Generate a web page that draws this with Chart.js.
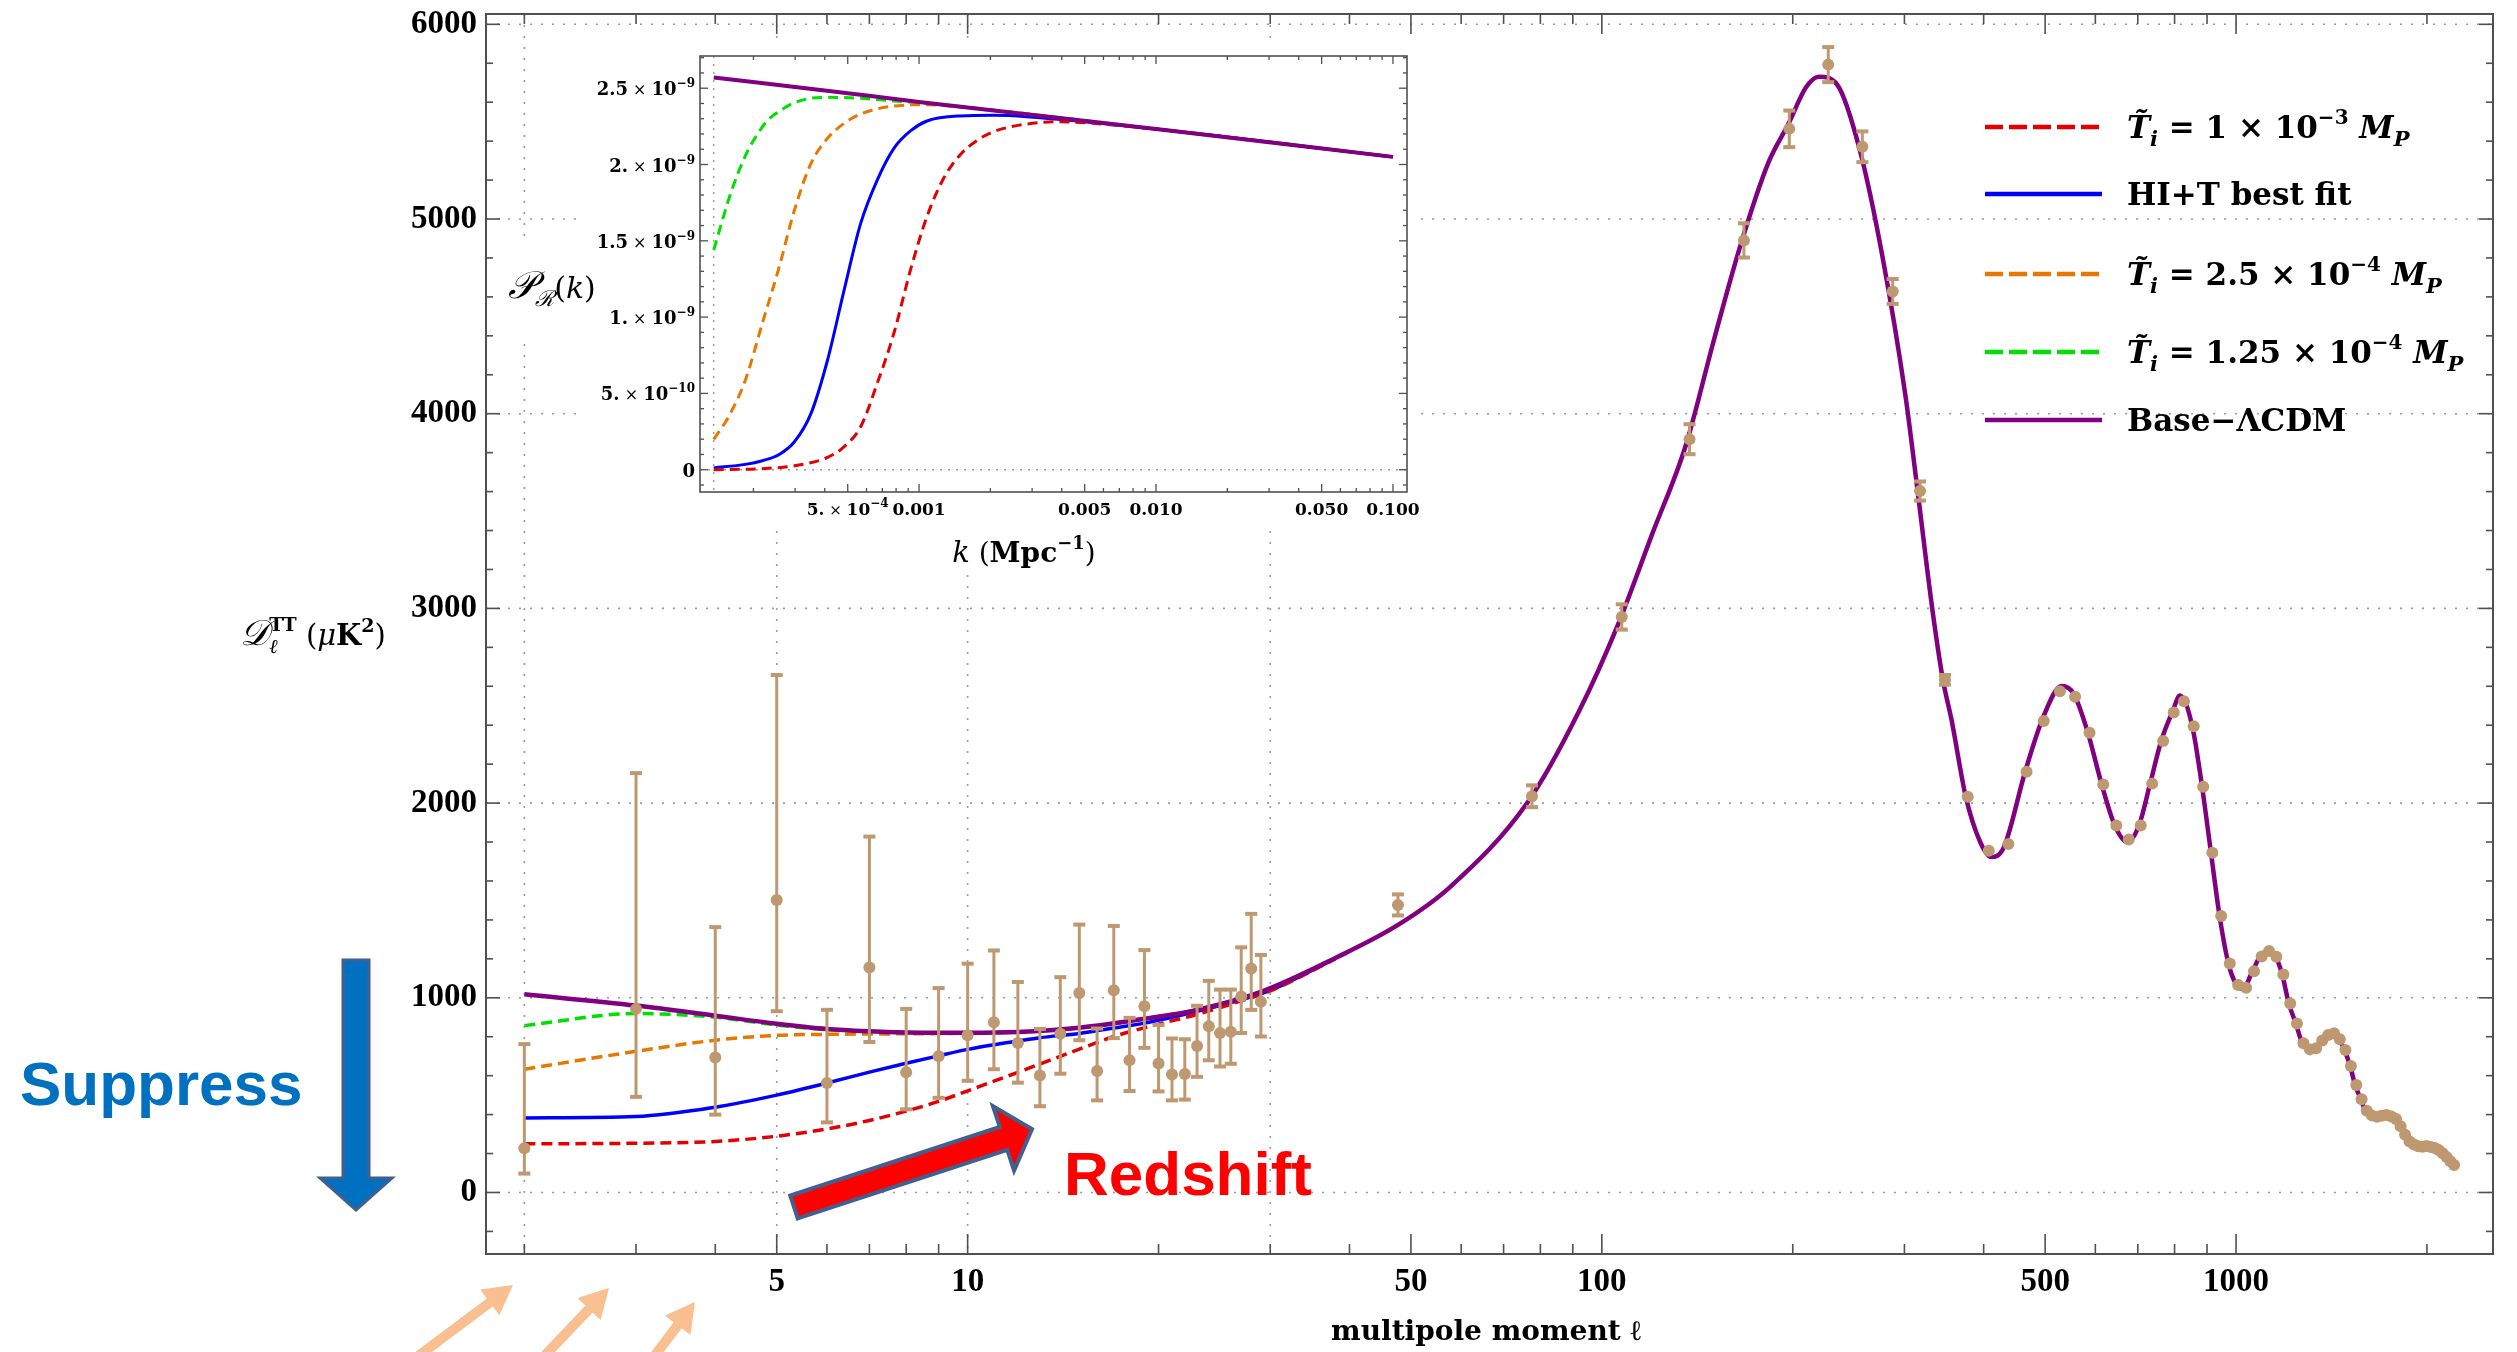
<!DOCTYPE html>
<html>
<head>
<meta charset="utf-8">
<title>TT spectrum with suppressed low multipoles</title>
<script src="https://cdn.jsdelivr.net/npm/chart.js@4.4.0/dist/chart.umd.min.js"></script>
<style>
  html, body { margin: 0; padding: 0; background: #fff; }
  #wrap { position: relative; width: 2517px; height: 1352px; }
  #main { position: absolute; left: 0; top: 0; }
  #inset { position: absolute; left: 500px; top: 45px; }
</style>
</head>
<body>
<div id="wrap">
  <canvas id="main" width="2517" height="1352"></canvas>
  <canvas id="inset" width="920" height="530"></canvas>
</div>
<script>
/**
 * Data
 */
// low-l Planck points (l = 2..29), value and error bar ends
const lowEll = [2, 3, 4, 5, 6, 7, 8, 9, 10, 11, 12, 13, 14, 15, 16, 17, 18, 19, 20, 21, 22, 23, 24, 25, 26, 27, 28, 29];
const lowD = [227, 943, 693, 1502, 562, 1156, 617, 700, 807, 874, 768, 601, 815, 1025, 624, 1039, 679, 956, 663, 606, 608, 752, 854, 819, 826, 1007, 1151, 979];
const lowUp = [762, 2154, 1363, 2658, 938, 1828, 943, 1050, 1175, 1243, 1081, 840, 1106, 1376, 842, 1369, 897, 1245, 860, 791, 787, 959, 1087, 1042, 1042, 1259, 1431, 1220];
const lowDn = [97, 491, 400, 931, 360, 773, 427, 486, 574, 633, 564, 443, 610, 782, 473, 793, 521, 743, 519, 473, 477, 594, 679, 647, 661, 819, 938, 801];

// binned high-l points
const binEll = [47.7, 77.6, 107.5, 137.5, 167.5, 197.5, 227.5, 257.5, 287.5, 317.5, 347.5, 377.5, 407.5, 437.5, 467.5, 497.5, 527.5, 557.5, 587.5, 617.5,
  647.5, 677.5, 707.5, 737.5, 767.5, 797.5, 827.5, 857.5, 887.5, 917.5, 947.5, 977.5, 1007.5, 1037.5, 1067.5, 1097.5, 1127.5, 1157.5, 1187.5, 1217.5,
  1247.5, 1277.5, 1307.5, 1337.5, 1367.5, 1397.5, 1427.5, 1457.5, 1487.5, 1517.5, 1547.5, 1577.5, 1607.5, 1637.5, 1667.5, 1697.5, 1727.5, 1757.5, 1787.5, 1817.5,
  1847.5, 1877.5, 1907.5, 1937.5, 1967.5, 1997.5, 2027.5, 2057.5, 2087.5, 2117.5, 2147.5, 2177.5, 2207.5];
const binD = [1477, 2035, 2956, 3869, 4890, 5463, 5793, 5371, 4628, 3603, 2633, 2033, 1755, 1790, 2161, 2422, 2574, 2546, 2361, 2096,
  1885, 1813, 1885, 2100, 2319, 2465, 2523, 2395, 2084, 1745, 1420, 1176, 1066, 1051, 1136, 1212, 1240, 1211, 1120, 971,
  868, 766, 735, 741, 780, 809, 818, 787, 732, 650, 552, 479, 420, 396, 389, 394, 398, 390, 378, 340,
  296, 262, 246, 238, 235, 239, 234, 228, 218, 201, 182, 160, 141];
const binErr = [54, 56, 65, 77, 88, 94, 90, 79, 64, 49, 25, 0, 0, 0, 0, 0, 0, 0, 0, 0,
  0, 0, 0, 0, 0, 0, 0, 0, 0, 0, 0, 0, 0, 0, 0, 0, 0, 0, 0, 0,
  0, 0, 0, 0, 0, 0, 0, 0, 0, 0, 0, 0, 0, 0, 0, 0, 0, 0, 0, 0,
  0, 0, 0, 0, 0, 0, 0, 0, 0, 0, 0, 0, 0];

// Base-LCDM curve
const lcdmEll = [2, 3, 4, 5, 6, 7, 8, 9, 10, 12, 15, 19, 23, 29, 38, 47.7, 57.5, 76.5, 92, 106,
  120, 135.5, 150, 165, 183, 197, 210, 220, 235, 255, 277, 301, 315, 332, 345, 356, 375, 395, 411, 430,
  465, 495, 531, 555, 584, 614, 644, 674, 703, 732, 762, 794, 816, 853, 884, 913, 942, 973, 1000, 1025,
  1062, 1091, 1124, 1153, 1182, 1211, 1242, 1272, 1303, 1336, 1363, 1424, 1455, 1482, 1513, 1541, 1573, 1598, 1663, 1729,
  1797, 1850, 1916, 1999, 2085, 2162, 2202];
const lcdmD = [1018, 960, 908, 867, 840, 828, 822, 820, 820, 824, 846, 892, 938, 1030, 1204, 1374, 1566, 2007, 2470, 2915,
  3380, 3833, 4371, 4853, 5288, 5490, 5678, 5731, 5690, 5357, 4807, 4096, 3592, 2995, 2633, 2427, 2030, 1800, 1723, 1770,
  2161, 2430, 2601, 2560, 2361, 2096, 1885, 1800, 1885, 2100, 2319, 2470, 2552, 2395, 2084, 1745, 1420, 1174, 1070, 1045,
  1138, 1211, 1240, 1215, 1121, 972, 869, 766, 735, 741, 780, 818, 787, 732, 650, 552, 479, 424, 389, 398,
  376, 295, 244, 239, 218, 171, 141];

// suppressed low-l curves
const modEll = [2, 3, 4, 5, 6, 7, 8, 9, 10, 11, 12, 13, 15, 17, 19, 23, 27, 30, 38];
const redD = [250, 253, 262, 289, 326, 370, 418, 468, 522, 572, 617, 660, 736, 801, 846, 915, 984, 1035, 1200];
const blueD = [383, 390, 438, 500, 562, 618, 664, 702, 735, 759, 778, 795, 817, 845, 870, 931, 990, 1038, 1203];
const orangeD = [633, 725, 782, 807, 812, 814, 815, 816, 818, 821, 824, 830, 846, 868, 892, 938, 995, 1040, 1204];
const greenD = [857, 919, 900, 860, 836, 826, 821, 819, 819, 821, 824, 830, 846, 868, 892, 938, 995, 1040, 1204];

// main axes ticks
const xLabelTicks = [5, 10, 50, 100, 500, 1000];
const xLabelText = ['5', '10', '50', '100', '500', '1000'];
const xMinorTicks = [2, 3, 4, 6, 7, 8, 9, 20, 30, 40, 60, 70, 80, 90, 200, 300, 400, 600, 700, 800, 900, 2000];
const xGridLines = [2, 5, 10, 30];
const yLabelTicks = [0, 1000, 2000, 3000, 4000, 5000, 6000];

// inset: primordial spectrum P_R(k), values in units of 1e-9
const kLcdm = [1.36e-4, 4e-4, 1e-3, 1e-2, 0.1];
const pLcdm = [2.570, 2.485, 2.410, 2.232, 2.050];
const kRed = [1.36e-4, 2.18e-4, 2.98e-4, 4.11e-4, 4.83e-4, 5.67e-4, 6.66e-4, 7.83e-4, 9.2e-4, 1.08e-3, 1.27e-3, 1.49e-3, 1.75e-3, 2.06e-3, 2.85e-3, 3.94e-3, 5.43e-3, 1e-2, 0.1];
const pRed = [0.000, 0.007, 0.026, 0.081, 0.151, 0.282, 0.566, 0.894, 1.309, 1.659, 1.910, 2.063, 2.156, 2.215, 2.265, 2.280, 2.270, 2.232, 2.050];
const kBlue = [1.36e-4, 1.85e-4, 2.18e-4, 2.57e-4, 2.98e-4, 3.5e-4, 4.11e-4, 4.83e-4, 5.67e-4, 6.66e-4, 7.83e-4, 9.2e-4, 1.08e-3, 1.49e-3, 2.06e-3, 2.85e-3, 1e-2, 0.1];
const pBlue = [0.012, 0.035, 0.059, 0.100, 0.183, 0.369, 0.719, 1.178, 1.614, 1.898, 2.106, 2.220, 2.285, 2.318, 2.322, 2.313, 2.232, 2.050];
const kOrange = [1.36e-4, 1.57e-4, 1.85e-4, 2.18e-4, 2.57e-4, 2.98e-4, 3.5e-4, 4.11e-4, 4.83e-4, 5.67e-4, 7.83e-4, 1.08e-3, 1.5e-3, 1e-2, 0.1];
const pOrange = [0.199, 0.347, 0.588, 0.959, 1.330, 1.702, 2.008, 2.172, 2.270, 2.331, 2.383, 2.392, 2.376, 2.232, 2.050];
const kGreen = [1.36e-4, 1.57e-4, 1.72e-4, 1.90e-4, 2.09e-4, 2.30e-4, 2.62e-4, 2.98e-4, 3.5e-4, 4.11e-4, 5.67e-4, 7.83e-4, 1.1e-3, 1e-2, 0.1];
const pGreen = [1.440, 1.767, 1.942, 2.095, 2.204, 2.291, 2.357, 2.405, 2.434, 2.440, 2.434, 2.416, 2.400, 2.232, 2.050];

// inset tick labels: [mantissa, exponent] pairs, exponent '' means plain number
const insetXLabelTicks = [5e-4, 1e-3, 5e-3, 1e-2, 5e-2, 0.1];
const insetXLabels = [['5.', '4'], ['0.001', ''], ['0.005', ''], ['0.010', ''], ['0.050', ''], ['0.100', '']];
const insetXMinor = [2e-4, 3e-4, 4e-4, 6e-4, 7e-4, 8e-4, 9e-4, 2e-3, 3e-3, 4e-3, 6e-3, 7e-3, 8e-3, 9e-3, 2e-2, 3e-2, 4e-2, 6e-2, 7e-2, 8e-2, 9e-2];
const insetYLabelTicks = [0, 0.5, 1, 1.5, 2, 2.5];
const insetYLabels = [['0', ''], ['5.', '10'], ['1.', '9'], ['1.5', '9'], ['2.', '9'], ['2.5', '9']];
const insetYMinor = [-0.1, 0.1, 0.2, 0.3, 0.4, 0.6, 0.7, 0.8, 0.9, 1.1, 1.2, 1.3, 1.4, 1.6, 1.7, 1.8, 1.9, 2.1, 2.2, 2.3, 2.4, 2.6, 2.7];
const kStart = 1.36e-4;

/**
 * Styles
 */
const COL = {
  red: '#e30000',
  blue: '#0000ff',
  orange: '#e87700',
  green: '#00e000',
  purple: '#800080',
  tan: 'rgb(190,152,112)',
  frame: '#505050',
  grid: '#9b9b9b'
};
const SERIF = 'DejaVu Serif';
const tickFont = { family: 'Liberation Serif', weight: 'bold', size: 33, lineHeight: 1 };

const toXY = function (xs, ys) {
  return xs.map((x, i) => ({ x: x, y: ys[i] }));
};

const curve = function (label, xs, ys, color, dashed, width, order) {
  return {
    label: label,
    data: toXY(xs, ys),
    showLine: true,
    borderColor: color,
    backgroundColor: color,
    borderWidth: width,
    borderDash: dashed ? [11, 6] : [],
    pointRadius: 0,
    pointHoverRadius: 0,
    cubicInterpolationMode: 'monotone',
    order: order
  };
};

const line = function (ctx, x0, y0, x1, y1) {
  ctx.beginPath();
  ctx.moveTo(x0, y0);
  ctx.lineTo(x1, y1);
  ctx.stroke();
};

// frame with inward ticks on all four sides plus dotted grid
const drawFrame = function (chart, o) {
  const { ctx, chartArea: a, scales: { x, y } } = chart;
  ctx.save();
  ctx.strokeStyle = COL.grid;
  ctx.lineWidth = o.gridWidth;
  ctx.setLineDash(o.gridDash);
  o.xGrid.forEach(v => {
    const p = x.getPixelForValue(v);
    line(ctx, p, a.top, p, a.bottom);
  });
  o.yGrid.forEach(v => {
    const p = y.getPixelForValue(v);
    line(ctx, a.left, p, a.right, p);
  });
  ctx.setLineDash([]);
  ctx.strokeStyle = COL.frame;
  ctx.lineWidth = o.tickWidth;
  const xt = function (vals, len) {
    vals.forEach(v => {
      const p = x.getPixelForValue(v);
      if (p < a.left || p > a.right) return;
      line(ctx, p, a.bottom, p, a.bottom - len);
      line(ctx, p, a.top, p, a.top + len);
    });
  };
  const yt = function (vals, len) {
    vals.forEach(v => {
      const p = y.getPixelForValue(v);
      if (p < a.top || p > a.bottom) return;
      line(ctx, a.left, p, a.left + len, p);
      line(ctx, a.right, p, a.right - len, p);
    });
  };
  xt(o.xMajor, o.xMajorLen);
  xt(o.xMinor, o.xMinorLen);
  yt(o.yMajor, o.yMajorLen);
  yt(o.yMinor, o.yMinorLen);
  ctx.lineWidth = o.frameWidth;
  ctx.strokeRect(a.left, a.top, a.right - a.left, a.bottom - a.top);
  ctx.restore();
};

// text made of pieces (sub/superscripts)
const richWidth = function (ctx, parts) {
  let w = 0;
  parts.forEach(p => {
    ctx.font = p.f;
    if (!p.stack) w += ctx.measureText(p.t).width;
  });
  return w;
};
const drawRich = function (ctx, x, y, parts, color) {
  let cx = x;
  ctx.fillStyle = color || '#000';
  ctx.textBaseline = 'alphabetic';
  ctx.textAlign = 'left';
  parts.forEach(p => {
    ctx.font = p.f;
    ctx.fillText(p.t, cx, y + (p.dy || 0));
    if (!p.stack) cx += ctx.measureText(p.t).width;
  });
};

// Mathematica style number label "m×10^e"
const sciParts = function (lab, size) {
  if (!lab[1]) return [{ t: lab[0], f: `bold ${size}px ${SERIF}` }];
  return [
    { t: lab[0], f: `bold ${size}px ${SERIF}` },
    { t: ' × ', f: `${size - 2}px ${SERIF}` },
    { t: '10', f: `bold ${size}px ${SERIF}` },
    { t: '−' + lab[1], f: `bold ${Math.round(size * 0.68)}px ${SERIF}`, dy: -Math.round(size * 0.45) }
  ];
};

const blockArrow = function (ctx, x0, y0, x1, y1, w, hl, hw) {
  const L = Math.hypot(x1 - x0, y1 - y0);
  const ux = (x1 - x0) / L, uy = (y1 - y0) / L;
  const nx = -uy, ny = ux;
  const bx = x1 - ux * hl, by = y1 - uy * hl;
  ctx.beginPath();
  ctx.moveTo(x0 + nx * w / 2, y0 + ny * w / 2);
  ctx.lineTo(bx + nx * w / 2, by + ny * w / 2);
  ctx.lineTo(bx + nx * hw, by + ny * hw);
  ctx.lineTo(x1, y1);
  ctx.lineTo(bx - nx * hw, by - ny * hw);
  ctx.lineTo(bx - nx * w / 2, by - ny * w / 2);
  ctx.lineTo(x0 - nx * w / 2, y0 - ny * w / 2);
  ctx.closePath();
};

/**
 * Main chart
 */
const dataEll = lowEll.concat(binEll);
const dataD = lowD.concat(binD);
const dataUp = lowUp.concat(binD.map((d, i) => d + binErr[i]));
const dataDn = lowDn.concat(binD.map((d, i) => d - binErr[i]));

const yMinorTicks = [];
for (let v = -200; v <= 6000; v += 200) {
  if (v % 1000 !== 0) yMinorTicks.push(v);
}

const errorBars = {
  id: 'errorBars',
  beforeDatasetDraw(chart, args) {
    if (chart.data.datasets[args.index].label !== 'Planck') return;
    const { ctx, scales: { x, y } } = chart;
    ctx.save();
    ctx.strokeStyle = COL.tan;
    dataEll.forEach((l, i) => {
      if (dataUp[i] - dataDn[i] <= 0) return;
      const px = x.getPixelForValue(l);
      const pt = y.getPixelForValue(dataUp[i]);
      const pb = y.getPixelForValue(dataDn[i]);
      ctx.lineWidth = 3;
      line(ctx, px, pt, px, pb);
      ctx.lineWidth = 4;
      line(ctx, px - 6, pt, px + 6, pt);
      line(ctx, px - 6, pb, px + 6, pb);
    });
    ctx.restore();
  }
};

const tParts = function (mant, exp) {
  return [
    { t: 'T\u0303', f: `bold italic 31px ${SERIF}` },
    { t: 'i', f: `bold italic 21px ${SERIF}`, dy: 8 },
    { t: ' = ' + mant + ' × 10', f: `bold 31px ${SERIF}` },
    { t: '−' + exp, f: `bold 20px ${SERIF}`, dy: -14 },
    { t: ' M', f: `bold italic 31px ${SERIF}` },
    { t: 'P', f: `bold italic 21px ${SERIF}`, dy: 8 }
  ];
};
const legendRows = [
  { color: COL.red, dashed: true, y: 127, parts: tParts('1', '3') },
  { color: COL.blue, dashed: false, y: 194, parts: [{ t: 'HI+T best fit', f: `bold 31px ${SERIF}` }] },
  { color: COL.orange, dashed: true, y: 274, parts: tParts('2.5', '4') },
  { color: COL.green, dashed: true, y: 352, parts: tParts('1.25', '4') },
  { color: COL.purple, dashed: false, y: 420, parts: [{ t: 'Base−ΛCDM', f: `bold 31px ${SERIF}` }] }
];

const mainDecor = {
  id: 'mainDecor',
  beforeDatasetsDraw(chart) {
    drawFrame(chart, {
      xGrid: xGridLines, yGrid: yLabelTicks,
      xMajor: xLabelTicks, xMinor: xMinorTicks, yMajor: yLabelTicks, yMinor: yMinorTicks,
      xMajorLen: 20, xMinorLen: 10, yMajorLen: 14, yMinorLen: 7,
      gridDash: [2, 9], gridWidth: 1.6, tickWidth: 1.6, frameWidth: 2
    });
  },
  afterDraw(chart) {
    const ctx = chart.ctx;
    ctx.save();

    // legend
    legendRows.forEach(r => {
      ctx.strokeStyle = r.color;
      ctx.lineWidth = 4.5;
      ctx.setLineDash(r.dashed ? [18, 6] : []);
      line(ctx, 1985, r.y, 2102, r.y);
      ctx.setLineDash([]);
      drawRich(ctx, 2127, r.y + 11, r.parts);
    });

    // axis titles
    const yTitle = [
      { t: '𝒟', f: `italic 36px ${SERIF}` },
      { t: 'ℓ', f: `italic 20px ${SERIF}`, dy: 8, stack: true },
      { t: 'TT', f: `bold 19px ${SERIF}`, dy: -14 },
      { t: ' (', f: `29px ${SERIF}` },
      { t: 'μ', f: `italic 29px ${SERIF}` },
      { t: 'K', f: `bold 29px ${SERIF}` },
      { t: '2', f: `bold 19px ${SERIF}`, dy: -13 },
      { t: ')', f: `29px ${SERIF}` }
    ];
    drawRich(ctx, 313 - richWidth(ctx, yTitle) / 2, 645, yTitle);
    ctx.font = `bold 28px ${SERIF}`;
    ctx.textAlign = 'center';
    ctx.fillStyle = '#000';
    ctx.fillText('multipole moment ℓ', 1486, 1340);

    // Suppress arrow + text
    ctx.lineJoin = 'miter';
    blockArrow(ctx, 356, 960, 356, 1210, 26, 32, 36);
    ctx.fillStyle = '#0070c0';
    ctx.fill();
    ctx.strokeStyle = '#41608f';
    ctx.lineWidth = 3;
    ctx.stroke();
    ctx.font = 'bold 62px "Liberation Sans"';
    ctx.textAlign = 'left';
    ctx.fillStyle = '#0070c0';
    ctx.fillText('Suppress', 20, 1105);

    // Redshift arrow + text
    blockArrow(ctx, 794, 1207, 1032, 1129, 24, 30, 34);
    ctx.fillStyle = '#ff0000';
    ctx.fill();
    ctx.strokeStyle = '#41608f';
    ctx.lineWidth = 4;
    ctx.stroke();
    ctx.fillStyle = '#ff0000';
    ctx.fillText('Redshift', 1064, 1195);

    // small orange arrows at the bottom
    ctx.fillStyle = '#f9bf90';
    [[401, 1369, 513, 1285], [533, 1368, 609, 1288], [641, 1374, 695, 1302]].forEach(a => {
      blockArrow(ctx, a[0], a[1], a[2], a[3], 10, 29, 16);
      ctx.fill();
    });
    ctx.restore();
  }
};

new Chart(document.getElementById('main'), {
  type: 'scatter',
  data: {
    datasets: [
      {
        label: 'Planck',
        data: toXY(dataEll, dataD),
        pointRadius: 6,
        pointHoverRadius: 6,
        backgroundColor: COL.tan,
        borderWidth: 0,
        showLine: false,
        order: 0
      },
      curve('Base-LCDM', lcdmEll, lcdmD, COL.purple, false, 4.5, 1),
      curve('Ti = 1e-3', modEll, redD, COL.red, true, 3.5, 2),
      curve('HI+T best fit', modEll, blueD, COL.blue, false, 3.5, 3),
      curve('Ti = 2.5e-4', modEll, orangeD, COL.orange, true, 3.5, 4),
      curve('Ti = 1.25e-4', modEll, greenD, COL.green, true, 3.5, 5)
    ]
  },
  options: {
    responsive: false,
    animation: false,
    devicePixelRatio: 1,
    events: [],
    layout: { padding: { left: 0, top: 14, right: 24, bottom: 0 } },
    plugins: { legend: { display: false }, tooltip: { enabled: false } },
    scales: {
      x: {
        type: 'logarithmic',
        min: 1.74,
        max: 2542,
        grid: { display: false, drawTicks: false },
        border: { display: false },
        ticks: {
          font: tickFont, color: '#000', padding: 12,
          autoSkip: false, maxRotation: 0, minRotation: 0,
          callback: (v, i) => xLabelText[i]
        },
        afterBuildTicks: s => { s.ticks = xLabelTicks.map(v => ({ value: v })); },
        afterFit: s => { s.height = 98; s.paddingLeft = 0; s.paddingRight = 0; }
      },
      y: {
        type: 'linear',
        min: -316,
        max: 6053,
        grid: { display: false, drawTicks: false },
        border: { display: false },
        ticks: { font: tickFont, color: '#000', padding: 9, callback: v => String(v) },
        afterBuildTicks: s => { s.ticks = yLabelTicks.map(v => ({ value: v })); },
        afterFit: s => { s.width = 486; s.paddingTop = 0; s.paddingBottom = 0; }
      }
    }
  },
  plugins: [errorBars, mainDecor]
});

/**
 * Inset chart
 */
const insetDecor = {
  id: 'insetDecor',
  beforeDraw(chart) {
    const ctx = chart.ctx;
    ctx.save();
    ctx.fillStyle = '#fff';
    ctx.fillRect(79, 0, 841, 480);
    ctx.fillRect(3, 200, 97, 92);
    ctx.fillRect(400, 478, 250, 52);
    ctx.restore();
  },
  beforeDatasetsDraw(chart) {
    drawFrame(chart, {
      xGrid: [kStart], yGrid: [0],
      xMajor: insetXLabelTicks, xMinor: insetXMinor,
      yMajor: insetYLabelTicks, yMinor: insetYMinor,
      xMajorLen: 8, xMinorLen: 4, yMajorLen: 8, yMinorLen: 4,
      gridDash: [2, 6], gridWidth: 1.4, tickWidth: 1.3, frameWidth: 1.6
    });
  },
  afterDraw(chart) {
    const { ctx, chartArea: a, scales: { x, y } } = chart;
    ctx.save();
    // tick labels with real superscripts
    insetXLabelTicks.forEach((v, i) => {
      const parts = sciParts(insetXLabels[i], 17);
      drawRich(ctx, x.getPixelForValue(v) - richWidth(ctx, parts) / 2, a.bottom + 23, parts);
    });
    insetYLabelTicks.forEach((v, i) => {
      const parts = sciParts(insetYLabels[i], 18);
      drawRich(ctx, a.left - 5 - richWidth(ctx, parts), y.getPixelForValue(v) + 7, parts);
    });
    const pTitle = [
      { t: '𝒫', f: `italic 38px ${SERIF}` },
      { t: 'ℛ', f: `italic 22px ${SERIF}`, dy: 8 },
      { t: '(', f: `30px ${SERIF}` },
      { t: 'k', f: `italic 30px ${SERIF}` },
      { t: ')', f: `30px ${SERIF}` }
    ];
    drawRich(ctx, 52 - richWidth(ctx, pTitle) / 2, 253, pTitle);
    const kTitle = [
      { t: 'k', f: `italic 29px ${SERIF}` },
      { t: ' (', f: `28px ${SERIF}` },
      { t: 'Mpc', f: `bold 28px ${SERIF}` },
      { t: '−1', f: `bold 18px ${SERIF}`, dy: -13 },
      { t: ')', f: `28px ${SERIF}` }
    ];
    drawRich(ctx, 524 - richWidth(ctx, kTitle) / 2, 517, kTitle);
    ctx.restore();
  }
};

const insetCurve = function (label, xs, ys, color, dashed, width, order) {
  const d = curve(label, xs, ys, color, dashed, width, order);
  d.borderDash = dashed ? [10, 6] : [];
  return d;
};

new Chart(document.getElementById('inset'), {
  type: 'scatter',
  data: {
    datasets: [
      insetCurve('Base-LCDM', kLcdm, pLcdm, COL.purple, false, 4, 0),
      insetCurve('Ti = 1e-3', kRed, pRed, COL.red, true, 3, 1),
      insetCurve('HI+T best fit', kBlue, pBlue, COL.blue, false, 3, 2),
      insetCurve('Ti = 2.5e-4', kOrange, pOrange, COL.orange, true, 3, 3),
      insetCurve('Ti = 1.25e-4', kGreen, pGreen, COL.green, true, 3, 4)
    ]
  },
  options: {
    responsive: false,
    animation: false,
    devicePixelRatio: 1,
    events: [],
    layout: { padding: { left: 0, top: 11, right: 13, bottom: 0 } },
    plugins: { legend: { display: false }, tooltip: { enabled: false } },
    scales: {
      x: {
        type: 'logarithmic',
        min: 1.19e-4,
        max: 0.1146,
        grid: { display: false, drawTicks: false },
        border: { display: false },
        ticks: { display: false },
        afterBuildTicks: s => { s.ticks = insetXLabelTicks.map(v => ({ value: v })); },
        afterFit: s => { s.height = 83; s.paddingLeft = 0; s.paddingRight = 0; }
      },
      y: {
        type: 'linear',
        min: -0.146,
        max: 2.711,
        grid: { display: false, drawTicks: false },
        border: { display: false },
        ticks: { display: false },
        afterBuildTicks: s => { s.ticks = insetYLabelTicks.map(v => ({ value: v })); },
        afterFit: s => { s.width = 200; s.paddingTop = 0; s.paddingBottom = 0; }
      }
    }
  },
  plugins: [insetDecor]
});
</script>
</body>
</html>
